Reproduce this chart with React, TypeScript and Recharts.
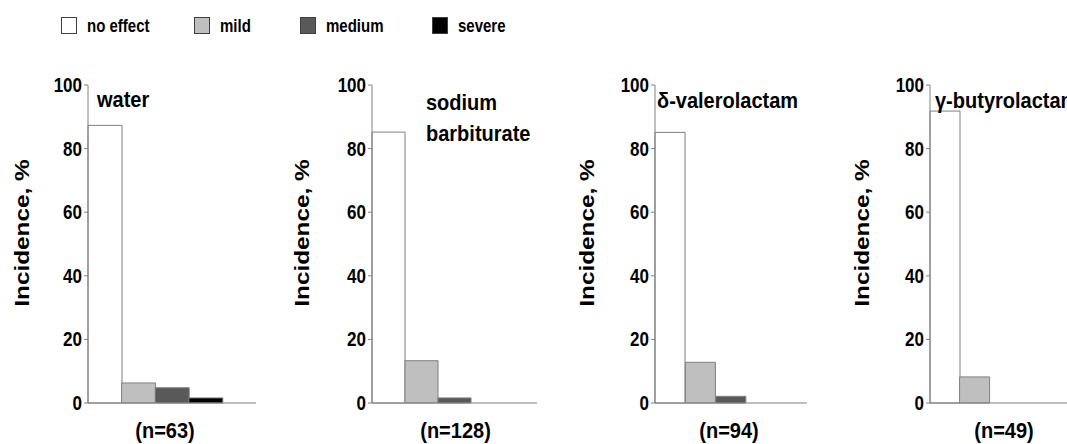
import React from "react";
import { BarChart, Bar, Cell, XAxis, YAxis } from "recharts";

const levels = ["no effect", "mild", "medium", "severe"];
const levelColors = ["#ffffff", "#bfbfbf", "#595959", "#000000"];
const drugs = ["water", "sodium barbiturate", "δ-valerolactam", "γ-butyrolactam"];
const sampleSizes = [63, 128, 94, 49];

// incidence, % for each severity level
const waterValues = [87.3, 6.3, 4.8, 1.6];
const barbiturateValues = [85.2, 13.3, 1.6, 0];
const valerolactamValues = [85.1, 12.8, 2.1, 0];
const butyrolactamValues = [91.8, 8.2, 0, 0];
const panelValues = [waterValues, barbiturateValues, valerolactamValues, butyrolactamValues];

const yTicks = [0, 20, 40, 60, 80, 100];

const FONT = "'Liberation Sans', Arial, sans-serif";
const AXIS_W = 90;
const PLOT_TOP = 85;
const PLOT_BOTTOM = 403;
const H = 444;
const STRETCH = 1.16; // source text is stretched vertically

const panels = [
  { plotLeft: 88, plotWidth: 168, frame: "#a6a6a6", nDx: -7, labelX: 22, titleX: 97, titleTop: 88, wrap: false },
  { plotLeft: 372, plotWidth: 165, frame: "#404040", nDx: 1, labelX: 302, titleX: 426, titleTop: 87, wrap: true },
  { plotLeft: 655, plotWidth: 152, frame: "#595959", nDx: -2, labelX: 587, titleX: 657, titleTop: 89, wrap: false },
  { plotLeft: 930, plotWidth: 148, frame: "#595959", nDx: 0, labelX: 862, titleX: 935, titleTop: 89, wrap: false },
];

const legendX = [61, 194, 300, 432];

const textStyle = { fill: "#000", fontWeight: 700, fontFamily: FONT };

function YTick(props: any) {
  const { x, y, payload } = props;
  return (
    <text
      transform={`translate(${x},${y}) scale(1,${STRETCH})`}
      textAnchor="end"
      dominantBaseline="central"
      fontSize={17}
      {...textStyle}
    >
      {payload.value}
    </text>
  );
}

function Panel({ index }: { index: number }) {
  const p = panels[index];
  const data = levels.map((level, i) => ({ level, value: panelValues[index][i] }));
  const width = AXIS_W + p.plotWidth + 2;
  const left = p.plotLeft - AXIS_W;
  const slot = p.plotWidth / 5;
  const titleLines = p.wrap ? drugs[index].split(" ") : [drugs[index]];
  const lx = p.labelX - left;
  const nx = AXIS_W + p.plotWidth / 2 + p.nDx;

  return (
    <div style={{ position: "absolute", left, top: 0, width, height: H }}>
      <BarChart
        width={width}
        height={H}
        data={data}
        margin={{ top: PLOT_TOP, right: 2, bottom: 0, left: 0 }}
        barCategoryGap={0}
        barGap={0}
      >
        <XAxis
          dataKey="level"
          tick={false}
          tickLine={false}
          stroke="#808080"
          height={H - PLOT_BOTTOM}
          padding={{ left: 0, right: slot }}
          label={{
            content: () => (
              <text
                transform={`translate(${nx},430) scale(1,1.1)`}
                textAnchor="middle"
                dominantBaseline="central"
                fontSize={20}
                {...textStyle}
              >
                {`(n=${sampleSizes[index]})`}
              </text>
            ),
          }}
        />
        <XAxis xAxisId="top" dataKey="level" orientation="top" height={0} tick={false} tickLine={false} stroke={p.frame} />
        <YAxis
          domain={[0, 100]}
          ticks={yTicks}
          width={AXIS_W}
          stroke="#808080"
          tickSize={4}
          tickMargin={2}
          tick={<YTick />}
          label={{
            content: () => (
              <text
                transform={`translate(${lx},233) rotate(-90) scale(${STRETCH},1)`}
                textAnchor="middle"
                dominantBaseline="central"
                fontSize={21}
                {...textStyle}
              >
                Incidence, %
              </text>
            ),
          }}
        />
        <YAxis yAxisId="right" orientation="right" width={0} domain={[0, 100]} tick={false} tickLine={false} stroke={p.frame} />
        <Bar dataKey="value" isAnimationActive={false} stroke="#7f7f7f" strokeWidth={1}>
          {data.map((d, i) => (
            <Cell key={d.level} fill={levelColors[i]} />
          ))}
        </Bar>
      </BarChart>
      <div
        style={{
          position: "absolute",
          left: p.titleX - left,
          top: p.titleTop,
          fontFamily: FONT,
          fontWeight: 700,
          fontSize: 20,
          lineHeight: p.wrap ? "28px" : "20px",
          whiteSpace: "nowrap",
          color: "#000",
          transform: "scale(1,1.1)",
          transformOrigin: "left top",
        }}
      >
        {titleLines.map((t) => (
          <div key={t}>{t}</div>
        ))}
      </div>
    </div>
  );
}

export default function App() {
  return (
    <div
      style={{
        position: "absolute",
        left: 0,
        top: 0,
        width: 1067,
        height: H,
        overflow: "hidden",
        background: "#fff",
      }}
    >
      {levels.map((level, i) => (
        <div
          key={level}
          style={{ position: "absolute", left: legendX[i], top: 17, display: "flex", alignItems: "center" }}
        >
          <div
            style={{
              width: 14,
              height: 15,
              background: levelColors[i],
              border: "1px solid #404040",
            }}
          />
          <span
            style={{
              display: "inline-block",
              marginLeft: 10,
              fontFamily: FONT,
              fontWeight: 700,
              fontSize: 15,
              lineHeight: "17px",
              color: "#000",
              transform: "scale(1,1.25)",
            }}
          >
            {level}
          </span>
        </div>
      ))}
      {panels.map((_, i) => (
        <Panel key={i} index={i} />
      ))}
    </div>
  );
}
